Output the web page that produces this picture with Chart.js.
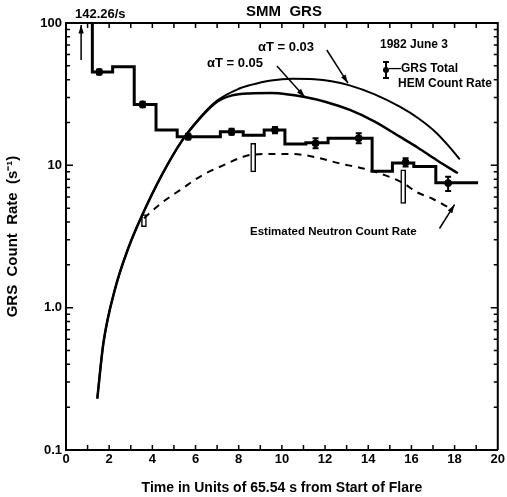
<!DOCTYPE html>
<html>
<head>
<meta charset="utf-8">
<script src="https://cdn.jsdelivr.net/npm/chart.js@4.4.0/dist/chart.umd.min.js"></script>
<style>
  html, body { margin: 0; padding: 0; background: #fff; }
</style>
</head>
<body>
<canvas id="grsChart" width="507" height="497"></canvas>
<script>
// HEM total count rate histogram (bin left edges, last entry = right edge of last bin)
const histEdges = [0.2, 1.22, 2.16, 3.16, 4.17, 5.15, 7.15, 8.21, 9.18, 10.14, 11.11, 12.14, 14.18, 15.12, 16.11, 17.13, 19.09];
const histRates = [142.26, 45.3, 49.3, 26.8, 17.7, 15.9, 17.2, 16.3, 17.7, 14.1, 14.4, 15.5, 9.1, 10.4, 9.8, 7.55, 7.55];

// plotted points with error bars
const hemTimes = [1.54, 3.55, 5.66, 7.67, 9.68, 11.56, 13.56, 15.73, 17.7];
const hemRates = [45.3, 26.8, 15.9, 17.2, 17.7, 14.3, 15.5, 10.5, 7.5];
const hemLow   = [43.4, 25.6, 15.2, 16.4, 16.8, 13.2, 14.3, 9.8, 6.6];
const hemHigh  = [47.2, 28.0, 16.7, 18.1, 18.6, 15.5, 16.8, 11.2, 8.3];

// model curves
const a05Times = [1.45, 1.73, 2.27, 2.89, 3.5, 4.43, 5.36, 6.2, 7.0, 7.7, 8.5, 9.5, 10.3, 11.06, 12.0, 13.15, 14.3, 15.46, 16.3, 17.16, 18.15];
const a05Rates = [0.23, 0.56, 1.35, 2.63, 4.37, 8.5, 14.8, 21.4, 28, 31, 32, 32.2, 31.5, 30.2, 28, 24.5, 20.3, 15.9, 13.3, 10.9, 8.8];
const a03Times = [1.45, 1.73, 2.27, 2.89, 3.5, 4.43, 5.36, 6.2, 7.0, 8.0, 8.52, 9.5, 10.5, 11.5, 12.3, 13.1, 14.3, 15.46, 16.3, 17.16, 17.7, 18.24];
const a03Rates = [0.23, 0.56, 1.35, 2.63, 4.37, 8.5, 14.8, 21.6, 28.5, 34.5, 36.6, 39.5, 40.6, 40.3, 39, 36.6, 31.5, 25.8, 21.5, 16.9, 13.8, 11.0];

// estimated neutron count rate
const neutTimes = [3.61, 4.4, 5.28, 6.3, 7.28, 8.21, 8.67, 9.44, 10.5, 11.45, 12.69, 13.77, 14.8, 15.62, 16.23, 17.0, 17.78];
const neutRates = [4.25, 5.4, 6.7, 8.5, 10.0, 11.5, 11.9, 12.0, 12.0, 11.5, 10.3, 9.5, 8.5, 7.5, 6.5, 5.8, 5.0];
const boxTimes = [3.61, 8.67, 15.62];
const boxLow   = [3.7, 9.0, 5.4];
const boxHigh  = [4.5, 14.3, 9.3];

const yLabels = { 0.1: '0.1', 1: '1.0', 10: '10', 100: '100' };
const FONT = "'Liberation Sans', Arial, sans-serif";

const pts = (xs, ys) => xs.map((x, i) => ({ x: x, y: ys[i] }));

const extras = {
    id: 'extras',
    afterDatasetsDraw(chart) {
        const { ctx, chartArea: a, scales: { x, y } } = chart;
        ctx.save();
        ctx.strokeStyle = '#000';
        ctx.fillStyle = '#000';

        // top and right frame
        ctx.lineWidth = 2;
        ctx.beginPath();
        ctx.moveTo(a.left, a.top); ctx.lineTo(a.right, a.top); ctx.lineTo(a.right, a.bottom);
        ctx.stroke();

        // error bars on HEM points
        hemTimes.forEach((t, i) => {
            const px = x.getPixelForValue(t);
            const lo = y.getPixelForValue(hemLow[i]);
            const hi = y.getPixelForValue(hemHigh[i]);
            ctx.beginPath();
            ctx.moveTo(px, lo); ctx.lineTo(px, hi);
            ctx.moveTo(px - 3, lo); ctx.lineTo(px + 3, lo);
            ctx.moveTo(px - 3, hi); ctx.lineTo(px + 3, hi);
            ctx.stroke();
        });

        // inward tick marks on all four sides
        ctx.lineWidth = 1.5;
        ctx.beginPath();
        for (let t = 1; t < 20; t++) {
            const px = x.getPixelForValue(t);
            ctx.moveTo(px, a.bottom); ctx.lineTo(px, a.bottom - 5);
            ctx.moveTo(px, a.top); ctx.lineTo(px, a.top + 5);
        }
        [0.1, 1, 10].forEach(d => {
            for (let m = 1; m <= 9; m++) {
                if (d === 0.1 && m === 1) continue;
                const py = y.getPixelForValue(d * m);
                const len = m === 1 ? 7 : 4;
                ctx.moveTo(a.left, py); ctx.lineTo(a.left + len, py);
                ctx.moveTo(a.right, py); ctx.lineTo(a.right - len, py);
            }
        });
        ctx.stroke();

        // arrows
        const arrow = (t0, v0, t1, v1) => {
            const x0 = x.getPixelForValue(t0), y0 = y.getPixelForValue(v0);
            const x1 = x.getPixelForValue(t1), y1 = y.getPixelForValue(v1);
            const ang = Math.atan2(y1 - y0, x1 - x0);
            ctx.lineWidth = 1.5;
            ctx.beginPath();
            ctx.moveTo(x0, y0); ctx.lineTo(x1, y1);
            ctx.stroke();
            ctx.beginPath();
            ctx.moveTo(x1, y1);
            ctx.lineTo(x1 - 9 * Math.cos(ang - 0.3), y1 - 9 * Math.sin(ang - 0.3));
            ctx.lineTo(x1 - 9 * Math.cos(ang + 0.3), y1 - 9 * Math.sin(ang + 0.3));
            ctx.closePath();
            ctx.fill();
        };
        arrow(0.7, 55, 0.7, 97);
        arrow(12.08, 64.6, 13.06, 37.8);
        arrow(9.77, 49.9, 11.06, 30.2);
        arrow(17.3, 3.6, 18.0, 5.3);

        // legend symbol
        ctx.lineWidth = 2;
        ctx.beginPath();
        ctx.moveTo(386, 62); ctx.lineTo(386, 78);
        ctx.moveTo(383, 62); ctx.lineTo(389, 62);
        ctx.moveTo(383, 78); ctx.lineTo(389, 78);
        ctx.stroke();
        ctx.beginPath();
        ctx.arc(386, 70, 3, 0, Math.PI * 2);
        ctx.fill();

        // texts
        ctx.textBaseline = 'middle';
        ctx.font = 'bold 15px ' + FONT;
        ctx.textAlign = 'center';
        ctx.fillText('SMM  GRS', 284, 12);
        ctx.textAlign = 'left';
        ctx.font = 'bold 13px ' + FONT;
        ctx.fillText('142.26/s', 75, 14);
        ctx.fillText('\u03b1T = 0.03', 258, 47);
        ctx.fillText('\u03b1T = 0.05', 207, 63);
        ctx.font = 'bold 12px ' + FONT;
        ctx.fillText('1982 June 3', 380, 45);
        ctx.fillText('\u2014GRS Total', 389, 69);
        ctx.fillText('HEM Count Rate', 398, 84);
        ctx.font = 'bold 11.5px ' + FONT;
        ctx.fillText('Estimated Neutron Count Rate', 250, 232);
        ctx.restore();
    }
};

new Chart(document.getElementById('grsChart'), {
    type: 'line',
    data: {
        datasets: [
            {
                data: pts(histEdges, histRates),
                stepped: 'before',
                borderColor: '#000',
                borderWidth: 3,
                pointRadius: 0,
                fill: false
            },
            {
                data: pts(hemTimes, hemRates),
                showLine: false,
                pointRadius: 3.5,
                pointBackgroundColor: '#000',
                pointBorderColor: '#000'
            },
            {
                data: pts(a05Times, a05Rates),
                borderColor: '#000',
                borderWidth: 2.5,
                pointRadius: 0,
                cubicInterpolationMode: 'monotone'
            },
            {
                data: pts(a03Times, a03Rates),
                borderColor: '#000',
                borderWidth: 2,
                pointRadius: 0,
                cubicInterpolationMode: 'monotone'
            },
            {
                data: pts(neutTimes, neutRates),
                borderColor: '#000',
                borderWidth: 2,
                borderDash: [7, 6],
                pointRadius: 0,
                cubicInterpolationMode: 'monotone'
            },
            {
                type: 'bar',
                data: boxTimes.map((t, i) => ({ x: t, y: [boxLow[i], boxHigh[i]] })),
                backgroundColor: '#fff',
                borderColor: '#000',
                borderWidth: 1.5,
                borderSkipped: false,
                barThickness: 5
            }
        ]
    },
    options: {
        responsive: false,
        animation: false,
        devicePixelRatio: 1,
        layout: { padding: { top: 23, right: 9, left: 0, bottom: 0 } },
        plugins: { legend: { display: false }, tooltip: { enabled: false } },
        scales: {
            x: {
                type: 'linear',
                offset: false,
                min: 0,
                max: 20,
                ticks: {
                    stepSize: 2,
                    color: '#000',
                    padding: 2,
                    font: { family: FONT, size: 13, weight: 'bold' }
                },
                grid: { display: false, drawTicks: false, offset: false },
                border: { color: '#000', width: 2 },
                title: {
                    display: true,
                    text: 'Time in Units of 65.54 s from Start of Flare',
                    color: '#000',
                    padding: { top: 2, bottom: 0 },
                    font: { family: FONT, size: 14, weight: 'bold' }
                },
                afterFit: s => { s.height = 47; }
            },
            y: {
                type: 'logarithmic',
                min: 0.1,
                max: 100,
                afterBuildTicks: s => { s.ticks = [0.1, 1, 10, 100].map(v => ({ value: v })); },
                ticks: {
                    autoSkip: false,
                    color: '#000',
                    padding: 4,
                    font: { family: FONT, size: 13, weight: 'bold' },
                    callback: v => yLabels[v] || ''
                },
                grid: { display: false, drawTicks: false },
                border: { color: '#000', width: 2 },
                title: {
                    display: true,
                    text: 'GRS  Count  Rate  (s\u207b\u00b9)',
                    color: '#000',
                    padding: { top: 4, bottom: 4 },
                    font: { family: FONT, size: 15, weight: 'bold' }
                },
                afterFit: s => { s.width = 66; }
            }
        }
    },
    plugins: [extras]
});
</script>
</body>
</html>
